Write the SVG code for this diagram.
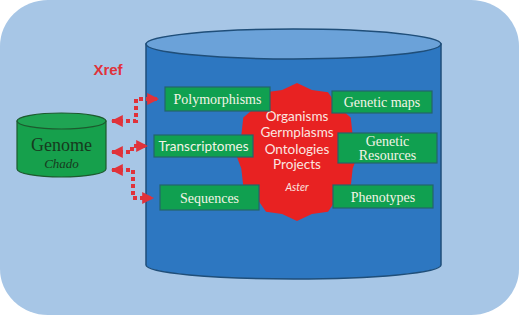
<svg xmlns="http://www.w3.org/2000/svg" width="520" height="316" viewBox="0 0 520 316">
<defs>
<style>
.box{fill:#10a050;stroke:#23656a;stroke-width:1.2}
.bt{font-family:"Liberation Serif",serif;font-size:14px;fill:#f4f4e6;text-anchor:middle}
.bs{font-family:Lato,"Liberation Sans",sans-serif;font-size:13.5px;fill:#f4f4e6;text-anchor:middle}
.rt{font-family:Lato,"Liberation Sans",sans-serif;font-size:13.5px;fill:#fbe6e0;text-anchor:middle}
.link{fill:none;stroke:#e0323a;stroke-width:4;stroke-dasharray:4 3}
</style>
<marker id="ah" viewBox="0 0 10 10" refX="9" refY="5" markerWidth="3" markerHeight="3" orient="auto-start-reverse" markerUnits="strokeWidth">
<path d="M0,0 L10,5 L0,10 z" fill="#e0323a"/>
</marker>
</defs>
<rect x="0" y="0" width="520" height="316" fill="#ffffff"/>
<rect x="0" y="0" width="519" height="315" rx="48" ry="46" fill="#a7c6e6"/>
<g id="aster-db">
<path d="M146,44 L146,265 A147.5,14 0 0 0 441,265 L441,44 Z" fill="#2d77c1" stroke="#1f4e79" stroke-width="1.5"/>
<ellipse cx="293.5" cy="44" rx="147.5" ry="15" fill="#6ba2d9" stroke="#1f4e79" stroke-width="1.5"/>
</g>
<g id="genome">
<path d="M17,121 L17,169 A44.5,8 0 0 0 106,169 L106,121 Z" fill="#16a04c" stroke="#1d5a2e" stroke-width="1.2"/>
<ellipse cx="61.5" cy="121" rx="44.5" ry="8" fill="#1fa453" stroke="#1d5a2e" stroke-width="1.2"/>
<text x="61.5" y="151" font-family="Liberation Serif,serif" font-size="18" fill="#173a1e" text-anchor="middle">Genome</text>
<text x="61.5" y="168" font-family="Liberation Serif,serif" font-size="13" font-style="italic" fill="#173a1e" text-anchor="middle">Chado</text>
</g>
<g id="xref">
<text x="108" y="75" font-family="Liberation Sans,sans-serif" font-size="15" font-weight="bold" fill="#e0323a" text-anchor="middle">Xref</text>
</g>
<g id="aster">
<polygon points="297,83 311.9,90 328,92.2 337.8,106.6 350.7,117.5 352.7,135.4 359,152 352.7,168.6 350.7,186.5 337.8,197.4 328,211.8 311.9,214 297,221 282.1,214 266,211.8 256.2,197.4 243.3,186.5 241.3,168.6 235,152 241.3,135.4 243.3,117.5 256.2,106.6 266,92.2 282.1,90" fill="#e82222"/>
<text class="rt" x="297" y="121">Organisms</text>
<text class="rt" x="297" y="137">Germplasms</text>
<text class="rt" x="297" y="154">Ontologies</text>
<text class="rt" x="297" y="169">Projects</text>
<text x="297" y="191" font-family="Lato,Liberation Sans,sans-serif" font-size="10.5" font-style="italic" fill="#fbe6e0" text-anchor="middle">Aster</text>
</g>
<g id="polymorphisms"><rect class="box" x="165" y="87" width="105" height="24"/><text class="bt" x="217.5" y="104">Polymorphisms</text></g>
<g id="transcriptomes"><rect class="box" x="154" y="135" width="99" height="22"/><text class="bs" x="203.5" y="151">Transcriptomes</text></g>
<g id="sequences"><rect class="box" x="160" y="185" width="99" height="25"/><text class="bt" x="209.5" y="202.5">Sequences</text></g>
<g id="genetic-maps"><rect class="box" x="332" y="91" width="100" height="22"/><text class="bt" x="382" y="107">Genetic maps</text></g>
<g id="genetic-resources"><rect class="box" x="338" y="133" width="99" height="30"/><text class="bt" x="387.5" y="146">Genetic</text><text class="bt" x="387.5" y="160">Resources</text></g>
<g id="phenotypes"><rect class="box" x="333" y="185" width="100" height="23"/><text class="bt" x="383" y="201.5">Phenotypes</text></g>
<g id="connectors">
<path class="link" d="M112,121 L136,121 L136,99 L158,99" marker-start="url(#ah)" marker-end="url(#ah)"/>
<path class="link" d="M112,152 L132,152 L132,146 L147,146" marker-start="url(#ah)" marker-end="url(#ah)"/>
<path class="link" d="M112,170 L133,170 L133,198 L153,198" marker-start="url(#ah)" marker-end="url(#ah)"/>
</g>
</svg>
